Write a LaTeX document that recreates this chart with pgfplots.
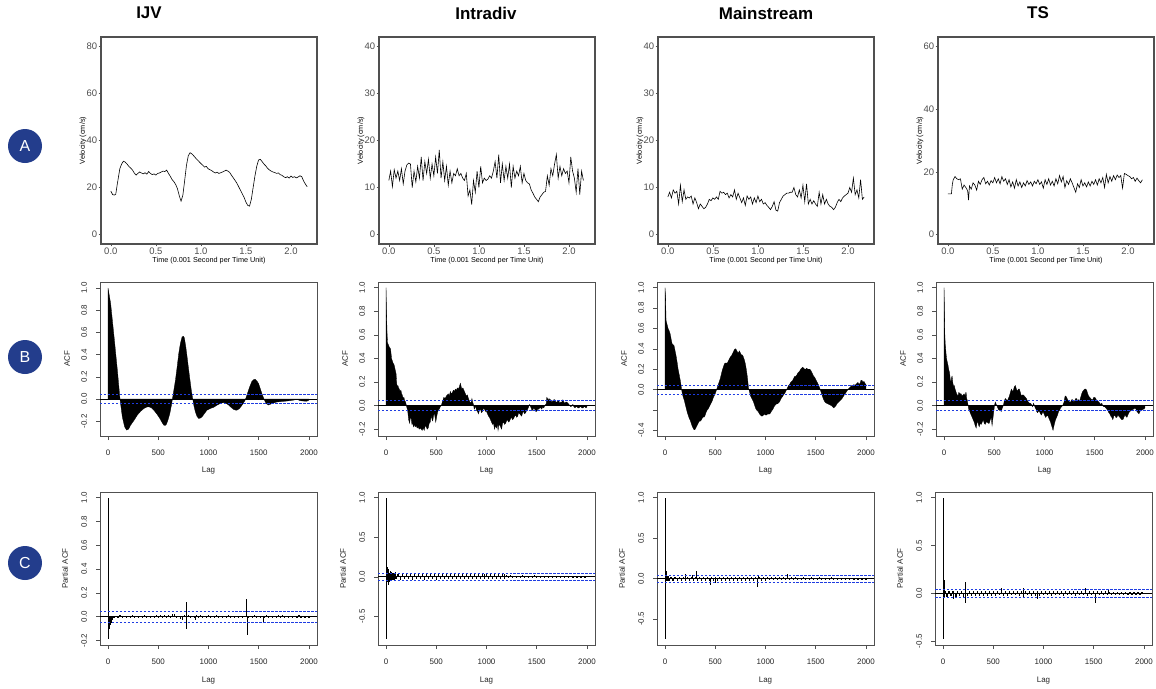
\documentclass[border=0pt]{standalone}
\usepackage{pgfplots}
\pgfplotsset{compat=1.18}
\usepackage{fontspec}
\setmainfont{Liberation Sans}
\definecolor{badge}{RGB}{35,61,140}
\definecolor{acfblue}{RGB}{30,60,225}
\definecolor{framegray}{RGB}{80,80,80}
\definecolor{tickgray}{RGB}{77,77,77}

\pgfplotsset{
  base/.style={scale only axis, anchor=north west,
    tick align=outside, tick pos=left,
    /pgf/number format/assume math mode=true},
  rowA/.style={base, width=216bp, height=207bp,
    xmin=-0.109, xmax=2.289,
    xtick={0,0.5,1,1.5,2},
    axis line style={draw=framegray, line width=1.1pt},
    major tick style={draw=framegray, line width=0.6pt},
    major tick length=2.5bp,
    ticklabel style={font=\fontsize{9.5}{9.5}\selectfont, text=tickgray, inner sep=1.2bp},
    xlabel={Time (0.001 Second per Time Unit)},
    ylabel={Velocity (cm/s)},
    label style={font=\fontsize{7.3}{8}\selectfont},
    xlabel style={at={(axis description cs:0.5,-0.08)}, anchor=center},
    ylabel style={at={(axis description cs:-0.083,0.5)}, anchor=center},
    xticklabel style={/pgf/number format/.cd, fixed, fixed zerofill, precision=1}},
  rowB/.style={base, width=217bp, height=154bp,
    xmin=-80, xmax=2080, xtick={0,500,1000,1500,2000},
    axis line style={draw=framegray, line width=0.8pt},
    major tick style={draw=framegray, line width=0.6pt},
    major tick length=4bp,
    xticklabel shift=6bp, yticklabel shift=5.5bp,
    ticklabel style={font=\fontsize{8}{8}\selectfont, text=black!85},
    xlabel={Lag}, ylabel={ACF},
    label style={font=\fontsize{8}{8}\selectfont, text=black!85},
    xlabel style={at={(axis description cs:0.5,-0.227)}, anchor=center},
    ylabel style={at={(axis description cs:-0.152,0.5)}, anchor=center},
    yticklabel style={rotate=90, anchor=south},
    xticklabel style={/pgf/number format/.cd, fixed, 1000 sep={}},
    yticklabel style={/pgf/number format/.cd, fixed, fixed zerofill, precision=1}},
  rowC/.style={rowB, height=153bp, ylabel={Partial ACF},
    xlabel style={at={(axis description cs:0.5,-0.235)}, anchor=center},
    ylabel style={at={(axis description cs:-0.161,0.5)}, anchor=center}},
  tsline/.style={draw=black, no markers, line width=0.6pt},
  zeroline/.style={draw=black, no markers, line width=0.7pt, forget plot},
  ciline/.style={draw=acfblue, color=acfblue, no markers, solid, dash pattern=on 2.5pt off 1.5pt, line width=0.85pt, forget plot},
  acffill/.style={fill=black, draw=black, no markers, line width=0.3pt},
  band/.style={draw=black, no markers, line width=1.2pt, ycomb},
  spikes/.style={draw=black, no markers, line width=0.6pt, ycomb},
}

\begin{document}
\begin{tikzpicture}
\useasboundingbox (0,0) rectangle (1156bp,-689bp);

% column titles
\foreach \xx/\tt in {149/IJV, 486/Intradiv, 766/Mainstream, 1038/TS}{
  \node[font=\bfseries\fontsize{17}{17}\selectfont] at (\xx bp,-13bp) {\tt};}
% row badges
\foreach \yy/\tt in {146/A, 357/B, 563/C}{
  \node[circle, fill=badge, minimum size=34bp, inner sep=0pt, text=white,
        font=\fontsize{16}{16}\selectfont] at (25bp,-\yy bp) {\tt};}

% ================= ROW A =================
\begin{axis}[rowA, at={(101bp,-37bp)}, ymin=-4, ymax=84, ytick={0,20,40,60,80}]
\addplot[tsline] coordinates {(0.00,18.5)(0.02,17.0)(0.04,16.8)(0.055,17.2)(0.07,21.0)(0.085,24.5)(0.10,28.0)(0.12,30.0)(0.14,31.2)(0.16,30.8)(0.18,30.0)(0.20,29.0)(0.22,28.3)(0.24,27.5)(0.26,26.2)(0.28,25.3)(0.30,26.0)(0.32,26.6)(0.34,26.2)(0.36,25.8)(0.38,26.3)(0.40,25.7)(0.42,26.8)(0.44,26.0)(0.46,25.5)(0.48,25.8)(0.50,25.3)(0.52,26.0)(0.54,26.2)(0.56,26.6)(0.58,27.0)(0.60,26.8)(0.62,27.4)(0.64,26.0)(0.66,24.8)(0.68,23.4)(0.70,22.5)(0.72,21.3)(0.74,19.5)(0.76,16.5)(0.78,14.2)(0.80,16.8)(0.82,23.0)(0.84,29.5)(0.86,33.5)(0.88,34.8)(0.90,34.3)(0.92,33.5)(0.94,32.6)(0.96,31.8)(0.98,31.0)(1.00,30.2)(1.02,29.5)(1.04,28.7)(1.06,29.0)(1.08,28.0)(1.10,27.6)(1.12,27.2)(1.14,26.6)(1.16,26.2)(1.18,26.5)(1.20,26.0)(1.22,26.3)(1.24,26.6)(1.26,27.0)(1.28,27.4)(1.30,27.0)(1.32,26.4)(1.34,25.2)(1.36,24.1)(1.38,23.0)(1.40,21.8)(1.42,20.3)(1.44,18.8)(1.46,17.3)(1.48,15.8)(1.50,13.8)(1.52,12.4)(1.54,12.1)(1.56,15.0)(1.58,20.0)(1.60,24.9)(1.62,29.0)(1.64,31.7)(1.66,32.0)(1.68,31.0)(1.70,30.0)(1.72,29.2)(1.74,28.2)(1.76,27.5)(1.78,27.0)(1.80,26.6)(1.82,26.4)(1.84,26.0)(1.86,26.2)(1.88,25.5)(1.90,25.2)(1.92,24.6)(1.94,24.2)(1.96,24.6)(1.98,24.0)(2.00,24.9)(2.02,24.3)(2.04,24.6)(2.06,24.1)(2.08,24.5)(2.10,25.0)(2.12,24.6)(2.14,22.8)(2.16,21.5)(2.18,20.3)};
\end{axis}

\begin{axis}[rowA, at={(379bp,-37bp)}, ymin=-2, ymax=42, ytick={0,10,20,30,40}]
\addplot[tsline] coordinates {(0.00,11.5)(0.02,13.5)(0.04,10.2)(0.06,13.8)(0.08,12.0)(0.10,13.5)(0.12,11.5)(0.14,14.0)(0.16,10.8)(0.18,13.5)(0.20,14.8)(0.22,15.2)(0.24,15.0)(0.26,10.0)(0.28,13.5)(0.30,11.2)(0.32,14.5)(0.34,12.0)(0.36,16.5)(0.38,11.5)(0.40,15.5)(0.42,13.0)(0.44,16.0)(0.46,12.0)(0.48,15.0)(0.50,12.5)(0.52,16.5)(0.54,13.0)(0.56,18.0)(0.58,12.0)(0.60,15.5)(0.62,11.5)(0.64,14.5)(0.66,10.5)(0.68,13.5)(0.70,11.0)(0.72,13.0)(0.74,12.5)(0.76,14.0)(0.78,12.5)(0.80,13.0)(0.82,12.0)(0.84,11.5)(0.86,13.0)(0.88,8.2)(0.90,9.5)(0.92,6.4)(0.94,11.5)(0.96,9.0)(0.98,13.5)(1.00,10.0)(1.02,14.5)(1.04,11.0)(1.06,12.0)(1.08,11.5)(1.10,11.8)(1.12,12.5)(1.14,12.0)(1.16,13.5)(1.18,15.5)(1.20,12.0)(1.22,17.0)(1.24,11.0)(1.26,15.0)(1.28,11.5)(1.30,14.5)(1.32,12.0)(1.34,15.0)(1.36,10.0)(1.38,14.5)(1.40,12.0)(1.42,13.5)(1.44,12.5)(1.46,14.5)(1.48,11.0)(1.50,13.0)(1.52,11.5)(1.54,11.0)(1.56,10.8)(1.58,9.5)(1.60,8.8)(1.62,8.0)(1.64,7.5)(1.66,7.0)(1.68,8.0)(1.70,8.5)(1.72,9.0)(1.74,9.2)(1.76,12.5)(1.78,10.5)(1.80,14.0)(1.82,12.5)(1.84,15.0)(1.86,17.0)(1.88,12.0)(1.90,14.5)(1.92,12.5)(1.94,14.0)(1.96,13.0)(1.98,13.5)(2.00,11.0)(2.02,16.5)(2.04,13.5)(2.06,12.0)(2.08,9.0)(2.10,14.0)(2.12,8.5)(2.14,13.5)(2.16,11.5)};
\end{axis}

\begin{axis}[rowA, at={(658bp,-37bp)}, ymin=-2, ymax=42, ytick={0,10,20,30,40}]
\addplot[tsline] coordinates {(0.00,8.0)(0.02,9.0)(0.04,7.8)(0.06,9.5)(0.08,8.8)(0.10,9.2)(0.12,6.5)(0.14,10.5)(0.16,7.0)(0.18,9.5)(0.20,7.5)(0.22,8.0)(0.24,7.8)(0.26,8.2)(0.28,6.5)(0.30,7.8)(0.32,6.8)(0.34,5.5)(0.36,6.5)(0.38,6.0)(0.40,5.5)(0.42,5.8)(0.44,6.5)(0.46,7.5)(0.48,7.2)(0.50,7.8)(0.52,7.5)(0.54,8.0)(0.56,7.5)(0.58,9.2)(0.60,8.8)(0.62,9.0)(0.64,8.5)(0.66,8.8)(0.68,7.8)(0.70,8.5)(0.72,8.0)(0.74,9.5)(0.76,7.5)(0.78,8.8)(0.80,7.8)(0.82,6.8)(0.84,7.8)(0.86,6.2)(0.88,8.2)(0.90,7.5)(0.92,8.0)(0.94,6.5)(0.96,7.8)(0.98,6.8)(1.00,8.2)(1.02,7.0)(1.04,7.5)(1.06,6.5)(1.08,6.8)(1.10,6.2)(1.12,5.8)(1.14,5.3)(1.16,6.0)(1.18,7.0)(1.20,5.2)(1.22,5.0)(1.24,6.8)(1.26,7.5)(1.28,8.2)(1.30,8.5)(1.32,8.8)(1.34,8.8)(1.36,9.0)(1.38,9.0)(1.40,10.0)(1.42,8.5)(1.44,8.0)(1.46,9.5)(1.48,7.8)(1.50,10.5)(1.52,7.0)(1.54,10.8)(1.56,6.5)(1.58,7.5)(1.60,6.5)(1.62,7.2)(1.64,6.5)(1.66,6.0)(1.68,9.0)(1.70,6.5)(1.72,8.5)(1.74,6.5)(1.76,7.5)(1.78,6.5)(1.80,6.0)(1.82,5.8)(1.84,5.3)(1.86,5.8)(1.88,6.8)(1.90,7.5)(1.92,7.0)(1.94,7.8)(1.96,8.2)(1.98,8.5)(2.00,8.8)(2.02,10.0)(2.04,9.0)(2.06,12.0)(2.08,8.5)(2.10,9.5)(2.12,7.8)(2.14,11.7)(2.16,7.5)(2.18,8.0)};
\end{axis}

\begin{axis}[rowA, at={(938bp,-37bp)}, ymin=-3, ymax=63, ytick={0,20,40,60}]
\addplot[tsline] coordinates {(0.00,13.0)(0.02,13.0)(0.04,13.0)(0.05,16.0)(0.06,17.5)(0.08,18.5)(0.10,17.8)(0.12,17.5)(0.14,17.8)(0.16,14.5)(0.18,15.8)(0.20,15.0)(0.22,14.0)(0.23,11.0)(0.24,15.5)(0.26,14.5)(0.28,16.5)(0.30,15.8)(0.32,14.2)(0.34,17.0)(0.36,16.0)(0.38,17.5)(0.40,18.2)(0.42,16.2)(0.44,17.0)(0.46,15.8)(0.48,17.2)(0.50,16.5)(0.52,18.2)(0.54,16.5)(0.56,17.8)(0.58,16.2)(0.60,18.5)(0.62,17.0)(0.64,17.8)(0.66,16.0)(0.68,17.5)(0.70,15.2)(0.72,16.8)(0.74,14.8)(0.76,17.5)(0.78,15.5)(0.80,16.8)(0.82,15.0)(0.84,16.5)(0.86,15.5)(0.88,17.2)(0.90,16.0)(0.92,16.8)(0.94,15.5)(0.96,17.0)(0.98,16.2)(1.00,17.5)(1.02,16.0)(1.04,16.8)(1.06,14.8)(1.08,17.5)(1.10,16.0)(1.12,17.8)(1.14,15.8)(1.16,17.0)(1.18,15.5)(1.20,17.8)(1.22,16.2)(1.24,18.8)(1.26,16.8)(1.28,18.5)(1.30,15.0)(1.32,17.2)(1.34,16.0)(1.36,17.8)(1.38,16.5)(1.40,15.0)(1.42,13.5)(1.44,16.2)(1.46,15.0)(1.48,17.5)(1.50,15.5)(1.52,16.5)(1.54,15.2)(1.56,16.8)(1.58,15.5)(1.60,17.0)(1.62,16.0)(1.64,17.5)(1.66,15.8)(1.68,17.8)(1.70,16.5)(1.72,18.2)(1.74,15.0)(1.76,19.2)(1.78,16.5)(1.80,18.5)(1.82,17.0)(1.84,18.8)(1.86,17.5)(1.88,19.0)(1.90,18.2)(1.92,18.8)(1.94,14.8)(1.96,19.5)(1.98,19.2)(2.00,18.8)(2.02,18.5)(2.04,17.8)(2.06,18.2)(2.08,17.0)(2.10,18.0)(2.12,17.2)(2.14,16.5)(2.16,17.5)};
\end{axis}

% ================= ROW B =================
\begin{axis}[rowB, at={(100bp,-282bp)}, ymin=-0.333, ymax=1.054, ytick={-0.2,0,0.2,0.4,0.6,0.8,1.0}]
\addplot[acffill] coordinates {(0,1.0)(26,0.86)(60,0.56)(93,0.26)(119,0.0)(142,-0.16)(165,-0.25)(185,-0.28)(205,-0.27)(225,-0.235)(260,-0.19)(291,-0.145)(325,-0.11)(357,-0.085)(385,-0.072)(407,-0.07)(430,-0.078)(456,-0.10)(490,-0.14)(516,-0.175)(540,-0.215)(555,-0.235)(570,-0.238)(582,-0.226)(598,-0.185)(615,-0.13)(628,-0.07)(641,0.0)(656,0.085)(671,0.17)(688,0.29)(704,0.41)(720,0.50)(737,0.56)(750,0.565)(760,0.55)(774,0.47)(787,0.38)(803,0.26)(820,0.14)(832,0.06)(843,0.0)(856,-0.065)(869,-0.115)(885,-0.155)(902,-0.175)(918,-0.172)(936,-0.16)(960,-0.13)(985,-0.10)(1018,-0.085)(1051,-0.075)(1085,-0.055)(1117,-0.04)(1140,-0.034)(1157,-0.033)(1180,-0.042)(1200,-0.054)(1225,-0.075)(1250,-0.093)(1270,-0.10)(1283,-0.10)(1305,-0.088)(1322,-0.07)(1345,-0.04)(1365,-0.01)(1388,0.05)(1410,0.11)(1431,0.157)(1450,0.175)(1464,0.178)(1480,0.165)(1498,0.14)(1515,0.095)(1531,0.05)(1548,0.01)(1564,-0.024)(1580,-0.045)(1597,-0.054)(1620,-0.045)(1650,-0.035)(1679,-0.027)(1730,-0.022)(1779,-0.018)(1815,-0.014)(1845,-0.01)(1878,-0.003)(1895,-0.008)(1911,-0.015)(1945,-0.018)(1977,-0.02)(2000,-0.01)} \closedcycle;
\addplot[zeroline] coordinates {(-80,0)(2080,0)};
\addplot[ciline] coordinates {(-80,0.044)(2080,0.044)};
\addplot[ciline] coordinates {(-80,-0.044)(2080,-0.044)};
\end{axis}

\begin{axis}[rowB, at={(378bp,-282bp)}, ymin=-0.258, ymax=1.048, ytick={-0.2,0,0.2,0.4,0.6,0.8,1.0}]
\addplot[acffill] coordinates {(0,1.0)(3,0.88)(6,0.75)(10,0.62)(15,0.53)(22,0.52)(30,0.50)(38,0.49)(45,0.48)(50,0.44)(55,0.40)(62,0.38)(70,0.36)(78,0.35)(85,0.33)(92,0.30)(100,0.27)(105,0.20)(110,0.16)(118,0.17)(125,0.15)(132,0.14)(140,0.12)(148,0.13)(155,0.10)(162,0.09)(170,0.06)(178,0.07)(185,0.04)(195,0.03)(205,-0.01)(215,-0.04)(225,-0.12)(235,-0.15)(242,-0.10)(250,-0.11)(258,-0.16)(265,-0.14)(272,-0.18)(280,-0.16)(290,-0.18)(300,-0.17)(310,-0.19)(320,-0.18)(330,-0.2)(340,-0.19)(350,-0.2)(360,-0.21)(370,-0.19)(380,-0.21)(390,-0.17)(400,-0.18)(410,-0.2)(420,-0.19)(430,-0.15)(440,-0.14)(450,-0.08)(458,-0.12)(465,-0.13)(472,-0.09)(480,-0.06)(488,-0.1)(495,-0.14)(505,-0.09)(512,-0.06)(520,-0.04)(530,-0.03)(540,-0.01)(550,0.0)(560,0.03)(568,0.05)(575,0.07)(588,0.06)(600,0.08)(610,0.09)(620,0.1)(630,0.08)(640,0.12)(650,0.10)(660,0.11)(670,0.13)(680,0.12)(690,0.14)(700,0.13)(710,0.15)(720,0.14)(730,0.16)(740,0.19)(748,0.16)(755,0.14)(765,0.15)(780,0.12)(790,0.10)(800,0.08)(810,0.09)(820,0.06)(830,0.04)(840,0.02)(848,0.03)(855,0.06)(862,0.03)(870,0.01)(878,-0.03)(885,-0.02)(892,0.0)(900,-0.04)(910,-0.05)(920,-0.07)(930,-0.04)(940,-0.03)(950,-0.06)(960,-0.05)(970,-0.02)(980,-0.03)(990,-0.05)(1000,-0.05)(1010,-0.07)(1020,-0.09)(1030,-0.1)(1040,-0.12)(1050,-0.14)(1060,-0.16)(1070,-0.15)(1080,-0.2)(1090,-0.17)(1100,-0.19)(1108,-0.15)(1115,-0.21)(1122,-0.17)(1130,-0.16)(1140,-0.18)(1150,-0.2)(1160,-0.15)(1170,-0.14)(1180,-0.16)(1190,-0.15)(1200,-0.13)(1210,-0.12)(1220,-0.14)(1230,-0.13)(1240,-0.11)(1250,-0.1)(1260,-0.12)(1270,-0.11)(1280,-0.09)(1290,-0.08)(1300,-0.1)(1310,-0.09)(1320,-0.06)(1330,-0.07)(1340,-0.08)(1350,-0.09)(1360,-0.06)(1370,-0.05)(1380,-0.07)(1390,-0.06)(1400,-0.04)(1410,-0.03)(1420,-0.01)(1430,0.01)(1438,-0.01)(1445,-0.02)(1452,-0.04)(1460,-0.04)(1470,-0.02)(1480,-0.03)(1490,-0.05)(1500,-0.05)(1510,-0.03)(1520,-0.03)(1530,-0.02)(1540,-0.02)(1550,-0.03)(1560,-0.01)(1570,-0.02)(1580,0.0)(1590,0.01)(1595,0.02)(1600,0.07)(1608,0.06)(1615,0.04)(1622,0.06)(1630,0.05)(1640,0.05)(1650,0.03)(1660,0.04)(1670,0.05)(1680,0.05)(1690,0.03)(1700,0.03)(1710,0.04)(1720,0.04)(1730,0.02)(1740,0.03)(1750,0.03)(1760,0.05)(1770,0.03)(1780,0.02)(1790,0.03)(1800,0.03)(1810,0.02)(1820,0.01)(1830,0.0)(1840,-0.01)(1850,0.0)(1860,0.01)(1870,-0.01)(1880,-0.02)(1890,-0.01)(1900,-0.01)(1910,-0.02)(1920,-0.02)(1930,-0.01)(1940,-0.01)(1950,-0.02)(1960,-0.02)(1970,-0.01)(1980,-0.01)(1990,-0.02)(2000,-0.01)} \closedcycle;
\addplot[zeroline] coordinates {(-80,0)(2080,0)};
\addplot[ciline] coordinates {(-80,0.043)(2080,0.043)};
\addplot[ciline] coordinates {(-80,-0.043)(2080,-0.043)};
\end{axis}

\begin{axis}[rowB, at={(657bp,-282bp)}, ymin=-0.456, ymax=1.056, ytick={-0.4,-0.2,0,0.2,0.4,0.6,0.8,1.0}, yticklabels={-0.4,,0.0,0.2,0.4,0.6,0.8,1.0}]
\addplot[acffill] coordinates {(0,1.0)(5,0.92)(10,0.68)(20,0.64)(30,0.6)(40,0.58)(50,0.55)(60,0.5)(70,0.45)(80,0.44)(90,0.43)(100,0.38)(110,0.33)(120,0.27)(130,0.2)(140,0.15)(150,0.1)(158,0.05)(165,0.0)(172,-0.04)(180,-0.07)(190,-0.1)(200,-0.14)(210,-0.18)(220,-0.22)(230,-0.25)(240,-0.28)(250,-0.3)(260,-0.33)(270,-0.36)(280,-0.38)(290,-0.395)(300,-0.39)(310,-0.37)(320,-0.35)(330,-0.33)(340,-0.31)(350,-0.31)(360,-0.3)(370,-0.28)(380,-0.27)(390,-0.27)(400,-0.25)(410,-0.22)(420,-0.2)(430,-0.19)(440,-0.17)(450,-0.15)(460,-0.13)(470,-0.11)(480,-0.08)(490,-0.06)(500,-0.04)(510,-0.01)(520,0.02)(530,0.05)(540,0.08)(550,0.11)(560,0.15)(570,0.19)(580,0.22)(590,0.25)(600,0.26)(610,0.26)(620,0.26)(630,0.28)(640,0.3)(650,0.32)(660,0.33)(670,0.35)(680,0.37)(690,0.39)(700,0.40)(710,0.39)(720,0.37)(730,0.36)(740,0.38)(750,0.36)(760,0.34)(770,0.34)(780,0.32)(790,0.29)(800,0.25)(810,0.19)(820,0.12)(825,0.07)(830,0.02)(840,-0.02)(850,-0.06)(860,-0.08)(870,-0.1)(880,-0.12)(890,-0.15)(900,-0.18)(910,-0.2)(920,-0.21)(930,-0.22)(940,-0.24)(950,-0.25)(960,-0.26)(970,-0.26)(980,-0.25)(990,-0.24)(1000,-0.25)(1010,-0.25)(1020,-0.24)(1030,-0.24)(1040,-0.24)(1050,-0.23)(1060,-0.21)(1070,-0.2)(1080,-0.18)(1090,-0.16)(1100,-0.15)(1110,-0.14)(1120,-0.14)(1130,-0.13)(1140,-0.12)(1150,-0.1)(1160,-0.08)(1170,-0.07)(1180,-0.05)(1190,-0.04)(1200,-0.02)(1210,0.0)(1220,0.02)(1230,0.04)(1240,0.05)(1250,0.07)(1260,0.08)(1270,0.09)(1280,0.11)(1290,0.13)(1300,0.13)(1310,0.14)(1320,0.16)(1330,0.17)(1340,0.18)(1350,0.2)(1360,0.21)(1370,0.22)(1380,0.21)(1390,0.2)(1400,0.2)(1410,0.21)(1420,0.2)(1430,0.2)(1440,0.2)(1450,0.19)(1460,0.17)(1470,0.15)(1480,0.13)(1490,0.12)(1500,0.1)(1510,0.08)(1520,0.06)(1530,0.04)(1545,0.0)(1555,-0.03)(1565,-0.06)(1575,-0.09)(1590,-0.12)(1600,-0.13)(1620,-0.14)(1640,-0.15)(1660,-0.16)(1680,-0.18)(1690,-0.17)(1700,-0.16)(1710,-0.14)(1720,-0.13)(1740,-0.11)(1760,-0.09)(1780,-0.06)(1800,-0.03)(1820,0.0)(1830,0.01)(1840,0.02)(1860,0.04)(1870,0.03)(1880,0.05)(1890,0.04)(1900,0.05)(1910,0.06)(1920,0.07)(1930,0.05)(1940,0.06)(1950,0.09)(1960,0.09)(1970,0.07)(1980,0.08)(1990,0.06)(2000,0.05)} \closedcycle;
\addplot[zeroline] coordinates {(-80,0)(2080,0)};
\addplot[ciline] coordinates {(-80,0.043)(2080,0.043)};
\addplot[ciline] coordinates {(-80,-0.043)(2080,-0.043)};
\end{axis}

\begin{axis}[rowB, at={(936bp,-282bp)}, ymin=-0.258, ymax=1.048, ytick={-0.2,0,0.2,0.4,0.6,0.8,1.0}]
\addplot[acffill] coordinates {(0,1.0)(3,0.88)(8,0.6)(12,0.52)(15,0.5)(20,0.44)(25,0.4)(32,0.37)(40,0.34)(48,0.3)(55,0.28)(62,0.22)(70,0.2)(75,0.24)(80,0.25)(88,0.19)(95,0.16)(102,0.17)(110,0.14)(118,0.12)(125,0.1)(132,0.09)(140,0.08)(145,0.11)(150,0.11)(160,0.1)(170,0.1)(180,0.08)(190,0.09)(200,0.1)(210,0.08)(215,0.11)(220,0.11)(225,0.06)(230,0.05)(238,0.01)(245,-0.03)(252,-0.04)(260,-0.06)(270,-0.08)(280,-0.1)(290,-0.12)(300,-0.14)(310,-0.17)(320,-0.19)(328,-0.15)(335,-0.13)(342,-0.16)(350,-0.18)(360,-0.15)(370,-0.16)(380,-0.14)(390,-0.12)(400,-0.15)(410,-0.16)(420,-0.14)(430,-0.14)(440,-0.15)(450,-0.15)(460,-0.12)(470,-0.1)(478,-0.17)(485,-0.12)(495,-0.05)(502,0.0)(510,0.03)(515,0.02)(520,0.01)(530,-0.01)(540,-0.03)(550,-0.04)(560,-0.04)(570,-0.05)(580,-0.02)(590,0.0)(600,0.04)(610,0.06)(620,0.05)(630,0.04)(640,0.06)(650,0.08)(660,0.11)(670,0.14)(680,0.12)(690,0.13)(700,0.16)(710,0.17)(720,0.14)(730,0.12)(740,0.14)(750,0.14)(760,0.11)(770,0.08)(780,0.09)(790,0.09)(800,0.08)(810,0.07)(820,0.06)(830,0.04)(840,0.03)(850,0.02)(860,0.02)(870,0.01)(880,-0.01)(890,0.02)(900,0.0)(908,-0.02)(915,-0.03)(922,-0.05)(930,-0.06)(940,-0.05)(950,-0.05)(960,-0.07)(970,-0.08)(980,-0.06)(990,-0.06)(1000,-0.08)(1010,-0.1)(1020,-0.09)(1030,-0.08)(1040,-0.1)(1050,-0.12)(1060,-0.14)(1070,-0.17)(1078,-0.19)(1085,-0.21)(1092,-0.18)(1100,-0.15)(1110,-0.12)(1120,-0.1)(1130,-0.08)(1140,-0.05)(1150,-0.04)(1160,-0.02)(1170,-0.01)(1180,0.0)(1190,0.02)(1195,0.03)(1200,0.06)(1205,0.08)(1212,0.08)(1220,0.07)(1230,0.05)(1240,0.04)(1250,0.03)(1260,0.03)(1270,0.05)(1280,0.05)(1290,0.03)(1300,0.04)(1310,0.06)(1320,0.06)(1330,0.04)(1340,0.05)(1350,0.04)(1360,0.07)(1370,0.1)(1380,0.12)(1390,0.13)(1400,0.14)(1410,0.14)(1420,0.13)(1430,0.1)(1440,0.08)(1450,0.07)(1460,0.06)(1470,0.05)(1480,0.05)(1490,0.07)(1500,0.07)(1510,0.06)(1520,0.04)(1530,0.04)(1540,0.03)(1550,0.02)(1560,0.01)(1570,0.02)(1580,0.0)(1590,-0.01)(1600,-0.01)(1610,-0.02)(1620,-0.03)(1630,-0.04)(1640,-0.06)(1650,-0.07)(1660,-0.09)(1670,-0.1)(1680,-0.12)(1690,-0.09)(1700,-0.08)(1710,-0.1)(1720,-0.1)(1730,-0.08)(1740,-0.09)(1750,-0.1)(1760,-0.11)(1770,-0.12)(1780,-0.12)(1790,-0.1)(1800,-0.08)(1810,-0.09)(1820,-0.1)(1830,-0.08)(1840,-0.06)(1850,-0.05)(1860,-0.04)(1870,-0.04)(1880,-0.03)(1890,-0.03)(1900,-0.02)(1910,-0.03)(1920,-0.05)(1930,-0.06)(1940,-0.07)(1950,-0.05)(1960,-0.04)(1970,-0.04)(1980,-0.03)(1990,-0.03)(2000,-0.02)} \closedcycle;
\addplot[zeroline] coordinates {(-80,0)(2080,0)};
\addplot[ciline] coordinates {(-80,0.043)(2080,0.043)};
\addplot[ciline] coordinates {(-80,-0.043)(2080,-0.043)};
\end{axis}

% ================= ROW C =================
\begin{axis}[rowC, at={(100bp,-492bp)}, ymin=-0.238, ymax=1.048, ytick={-0.2,0,0.2,0.4,0.6,0.8,1.0}]
\addplot[band] coordinates {(30,-0.03)(40,0.01)(60,-0.012)(80,0.008)(100,-0.01)(120,0.012)(140,-0.008)(160,0.009)(180,-0.011)(200,0.01)(220,-0.009)(240,0.011)(260,-0.01)(280,0.008)(300,-0.012)(320,0.01)(340,-0.009)(360,0.012)(380,-0.01)(400,0.009)(420,-0.013)(440,0.008)(460,-0.01)(480,0.011)(500,-0.009)(520,0.012)(540,-0.008)(560,0.014)(580,-0.006)(600,0.018)(620,-0.004)(640,0.025)(650,0.004)(660,0.02)(680,-0.006)(700,0.01)(720,-0.02)(740,-0.025)(760,0.012)(780,-0.012)(800,0.015)(820,-0.012)(840,0.01)(860,-0.014)(880,0.012)(900,-0.01)(920,0.011)(940,-0.012)(960,0.009)(980,-0.01)(1000,0.012)(1020,-0.009)(1040,0.01)(1060,-0.011)(1080,0.012)(1100,-0.01)(1120,0.009)(1140,-0.012)(1160,0.01)(1180,-0.008)(1200,0.011)(1220,-0.012)(1240,0.009)(1260,-0.014)(1280,0.008)(1300,-0.012)(1320,0.01)(1340,-0.011)(1360,0.009)(1400,-0.012)(1420,0.01)(1440,-0.009)(1460,0.011)(1480,-0.01)(1500,0.009)(1520,-0.012)(1540,0.01)(1560,-0.011)(1580,0.012)(1600,-0.009)(1620,0.01)(1640,-0.012)(1660,0.009)(1680,-0.01)(1700,0.011)(1720,-0.009)(1740,0.012)(1760,-0.01)(1780,0.009)(1800,-0.011)(1820,0.01)(1840,-0.012)(1860,0.009)(1880,-0.01)(1900,0.011)(1920,-0.009)(1940,0.01)(1960,-0.011)(1980,0.009)(2000,-0.008)};
\addplot[spikes] coordinates {(1,1.0)(3,-0.19)(8,-0.1)(14,-0.08)(20,-0.07)(26,-0.06)(32,-0.05)(38,-0.03)(775,0.125)(777,-0.1)(870,-0.03)(1380,0.15)(1382,-0.155)(1550,-0.045)};
\addplot[zeroline] coordinates {(-80,0)(2080,0)};
\addplot[ciline] coordinates {(-80,0.044)(2080,0.044)};
\addplot[ciline] coordinates {(-80,-0.044)(2080,-0.044)};
\end{axis}

\begin{axis}[rowC, at={(378bp,-492bp)}, ymin=-0.862, ymax=1.072, ytick={-0.5,0,0.5,1.0}]
\addplot[band] coordinates {(10,0.06)(20,-0.07)(30,0.05)(40,-0.05)(50,0.06)(60,-0.04)(70,0.05)(80,-0.04)(90,0.05)(100,-0.03)(120,0.03)(140,-0.035)(160,0.03)(180,-0.03)(200,0.035)(220,-0.03)(240,0.03)(260,-0.035)(280,0.03)(300,-0.03)(320,0.035)(340,-0.03)(360,0.03)(380,-0.035)(400,0.03)(420,-0.03)(440,0.035)(460,-0.03)(480,0.03)(500,-0.035)(520,0.03)(540,-0.03)(560,0.035)(580,-0.03)(600,0.03)(620,-0.03)(640,0.035)(660,-0.028)(680,0.03)(700,-0.03)(720,0.032)(740,-0.028)(760,0.03)(780,-0.03)(800,0.032)(820,-0.03)(840,0.03)(860,-0.028)(880,0.032)(900,-0.03)(920,0.03)(940,-0.03)(960,0.035)(980,-0.03)(1000,0.03)(1020,-0.028)(1040,0.03)(1060,-0.03)(1080,0.03)(1100,-0.028)(1120,0.03)(1140,-0.03)(1160,0.032)(1180,-0.03)(1200,0.025)(1220,-0.018)(1240,0.02)(1260,-0.018)(1280,0.015)(1300,-0.018)(1320,0.016)(1340,-0.015)(1360,0.018)(1380,-0.015)(1400,0.016)(1420,-0.018)(1440,0.015)(1460,-0.016)(1480,0.018)(1500,-0.015)(1520,0.016)(1540,-0.018)(1560,0.015)(1580,-0.016)(1600,0.015)(1620,-0.014)(1640,0.016)(1660,-0.015)(1680,0.014)(1700,-0.016)(1720,0.015)(1740,-0.014)(1760,0.016)(1780,-0.015)(1800,0.014)(1820,-0.015)(1840,0.014)(1860,-0.013)(1880,0.015)(1900,-0.014)(1920,0.013)(1940,-0.015)(1960,0.014)(1980,-0.013)(2000,0.01)};
\addplot[spikes] coordinates {(1,1.0)(3,-0.79)(12,0.13)(18,-0.1)(25,0.1)(32,-0.07)(45,0.07)(90,0.06)(980,0.04)(1180,0.04)};
\addplot[zeroline] coordinates {(-80,0)(2080,0)};
\addplot[ciline] coordinates {(-80,0.043)(2080,0.043)};
\addplot[ciline] coordinates {(-80,-0.043)(2080,-0.043)};
\end{axis}

\begin{axis}[rowC, at={(657bp,-492bp)}, ymin=-0.82, ymax=1.07, ytick={-0.5,0,0.5,1.0}]
\addplot[band] coordinates {(10,0.05)(20,-0.03)(30,0.03)(40,-0.035)(60,0.02)(80,-0.03)(100,0.02)(120,-0.03)(140,0.02)(160,-0.03)(180,0.02)(200,-0.035)(220,0.025)(240,-0.03)(260,0.02)(280,-0.03)(300,0.025)(320,-0.03)(340,0.02)(360,-0.03)(380,0.025)(400,-0.035)(420,0.02)(440,-0.03)(460,0.02)(480,-0.03)(500,0.025)(520,-0.03)(540,0.02)(560,-0.025)(580,0.02)(600,-0.03)(620,0.02)(640,-0.025)(660,0.02)(680,-0.03)(700,0.025)(720,-0.025)(740,0.02)(760,-0.025)(780,0.02)(800,-0.03)(820,0.02)(840,-0.025)(860,0.025)(880,-0.025)(900,0.02)(920,-0.03)(940,0.02)(960,-0.025)(980,0.02)(1000,-0.025)(1020,0.015)(1040,-0.02)(1060,0.015)(1080,-0.02)(1100,0.015)(1120,-0.02)(1140,0.015)(1160,-0.02)(1180,0.015)(1200,-0.02)(1220,0.02)(1240,-0.02)(1260,0.015)(1280,-0.02)(1300,0.015)(1320,-0.02)(1340,0.012)(1360,-0.02)(1380,0.015)(1400,-0.02)(1420,0.012)(1440,-0.02)(1460,0.015)(1480,-0.018)(1500,0.012)(1520,-0.02)(1540,0.015)(1560,-0.018)(1580,0.012)(1600,-0.02)(1620,0.012)(1640,-0.018)(1660,0.015)(1680,-0.02)(1700,0.012)(1720,-0.018)(1740,0.012)(1760,-0.02)(1780,0.012)(1800,-0.018)(1820,0.012)(1840,-0.018)(1860,0.012)(1880,-0.02)(1900,0.012)(1920,-0.018)(1940,0.012)(1960,-0.018)(1980,0.012)(2000,-0.015)};
\addplot[spikes] coordinates {(1,1.0)(3,-0.75)(10,0.1)(200,0.06)(270,0.05)(310,0.09)(450,-0.08)(500,-0.06)(920,-0.1)(930,0.03)(1220,0.06)};
\addplot[zeroline] coordinates {(-80,0)(2080,0)};
\addplot[ciline] coordinates {(-80,0.043)(2080,0.043)};
\addplot[ciline] coordinates {(-80,-0.043)(2080,-0.043)};
\end{axis}

\begin{axis}[rowC, at={(935bp,-492bp)}, ymin=-0.54, ymax=1.06, ytick={-0.5,0,0.5,1.0}]
\addplot[band] coordinates {(8,0.04)(16,-0.05)(25,0.03)(40,-0.04)(60,0.03)(80,-0.03)(100,0.025)(120,-0.035)(140,0.03)(160,-0.03)(180,0.025)(200,-0.035)(220,0.03)(240,-0.03)(260,0.025)(280,-0.03)(300,0.02)(320,-0.025)(340,0.02)(360,-0.03)(380,0.025)(400,-0.025)(420,0.02)(440,-0.03)(460,0.025)(480,-0.025)(500,0.02)(520,-0.025)(540,0.025)(560,-0.02)(580,0.025)(600,-0.025)(620,0.02)(640,-0.025)(660,0.02)(680,-0.02)(700,0.025)(720,-0.02)(740,0.02)(760,-0.025)(780,0.025)(800,-0.03)(820,0.02)(840,-0.02)(860,0.025)(880,-0.025)(900,0.02)(920,-0.025)(940,0.02)(960,-0.025)(980,0.02)(1000,-0.02)(1020,0.025)(1040,-0.02)(1060,0.02)(1080,-0.025)(1100,0.025)(1120,-0.02)(1140,0.025)(1160,-0.02)(1180,0.02)(1200,-0.025)(1220,0.02)(1240,-0.02)(1260,0.025)(1280,-0.02)(1300,0.02)(1320,-0.025)(1340,0.02)(1360,-0.02)(1380,0.025)(1400,-0.02)(1420,0.02)(1440,-0.025)(1460,0.02)(1480,-0.02)(1500,0.02)(1520,-0.025)(1540,0.02)(1560,-0.02)(1580,0.02)(1600,-0.02)(1620,0.025)(1640,-0.02)(1660,0.015)(1680,-0.02)(1700,0.015)(1720,-0.02)(1740,0.015)(1760,-0.015)(1780,0.015)(1800,-0.02)(1820,0.015)(1840,-0.015)(1860,0.015)(1880,-0.02)(1900,0.015)(1920,-0.015)(1940,0.012)(1960,-0.015)(1980,0.012)(2000,-0.01)};
\addplot[spikes] coordinates {(1,1.0)(3,-0.48)(10,0.14)(15,-0.05)(100,-0.06)(130,-0.05)(220,0.12)(222,-0.1)(580,0.06)(800,0.06)(802,-0.05)(940,-0.06)(1420,0.06)(1520,-0.1)(1640,0.05)};
\addplot[zeroline] coordinates {(-80,0)(2080,0)};
\addplot[ciline] coordinates {(-80,0.043)(2080,0.043)};
\addplot[ciline] coordinates {(-80,-0.043)(2080,-0.043)};
\end{axis}

\end{tikzpicture}
\end{document}
